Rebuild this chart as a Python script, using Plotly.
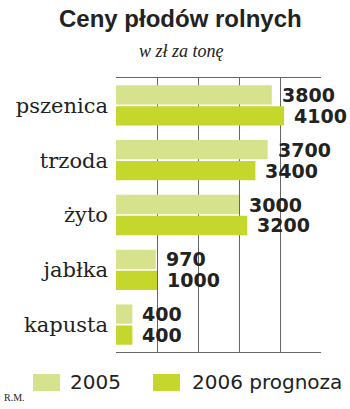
import plotly.graph_objects as go

categories = ["pszenica", "trzoda", "żyto", "jabłka", "kapusta"]
values_2005 = [3800, 3700, 3000, 970, 400]
values_2006 = [4100, 3400, 3200, 1000, 400]
series_names = ["2005", "2006 prognoza"]
x_ticks = [0, 1000, 2000, 3000, 4000, 5000]

c2005 = "#d6e28c"
c2006 = "#c5d62c"
txt = "#222222"
label_font = dict(family="DejaVu Sans", size=19, color=txt)

BARGAP = 0.234
fig = go.Figure()
for name, vals, col in [(series_names[0], values_2005, c2005), (series_names[1], values_2006, c2006)]:
    fig.add_trace(go.Bar(
        y=categories, x=vals, orientation="h", name=name,
        marker=dict(color=col, line=dict(width=0)),
        showlegend=False,
    ))

W, H, L, R, T, B = 350, 409, 116, 29, 78, 57
pw, ph = W - L - R, H - T - B
def ypaper(py):
    return (H - B - py) / ph
def xpaper(px):
    return (px - L) / pw

fig.update_layout(
    width=W, height=H,
    margin=dict(l=L, r=R, t=T, b=B),
    paper_bgcolor="white", plot_bgcolor="white",
    barmode="group", bargap=BARGAP, bargroupgap=0.08,
    xaxis=dict(range=[0, 5000], tickvals=x_ticks, showticklabels=False,
               showgrid=True, gridcolor="#666666", gridwidth=1,
               showline=True, linecolor="#666666", linewidth=1, mirror=True,
               zeroline=False, fixedrange=True),
    yaxis=dict(autorange="reversed", showgrid=False, showline=False,
               tickfont=dict(family="DejaVu Serif", size=21, color=txt),
               ticks="", ticklabelstandoff=7),
    font=dict(family="DejaVu Sans", color=txt),
)

# value labels
off = (1 - BARGAP) / 4
for si, vals in enumerate([values_2005, values_2006]):
    sign = -1 if si == 0 else 1
    for i, v in enumerate(vals):
        fig.add_annotation(text=f"<b>{v}</b>", x=v, y=i + sign * off, xref="x", yref="y",
                           xanchor="left", yanchor="middle", showarrow=False, xshift=8,
                           font=label_font)

fig.add_annotation(text="<b>Ceny płodów rolnych</b>", x=xpaper(180), y=ypaper(18), xref="paper", yref="paper",
                   xanchor="center", yanchor="middle", showarrow=False,
                   font=dict(family="Liberation Sans", size=24, color=txt))
fig.add_annotation(text="<i>w zł za tonę</i>", x=xpaper(181), y=ypaper(51), xref="paper", yref="paper",
                   xanchor="center", yanchor="middle", showarrow=False,
                   font=dict(family="Liberation Serif", size=18, color=txt))

# legend drawn manually
for (x0, x1, col, label, tx) in [(33, 60, c2005, series_names[0], 68), (153, 180, c2006, series_names[1], 190)]:
    fig.add_shape(type="rect", xref="paper", yref="paper",
                  x0=xpaper(x0), x1=xpaper(x1), y0=ypaper(391), y1=ypaper(374),
                  fillcolor=col, line=dict(width=0))
    fig.add_annotation(text=label, x=xpaper(tx), y=ypaper(382), xref="paper", yref="paper",
                       xanchor="left", yanchor="middle", showarrow=False,
                       font=dict(family="DejaVu Sans", size=20, color=txt))

fig.add_annotation(text="R.M.", x=xpaper(2), y=ypaper(397), xref="paper", yref="paper",
                   xanchor="left", yanchor="middle", showarrow=False,
                   font=dict(family="Liberation Serif", size=10, color=txt))

fig.write_html("out.html")
